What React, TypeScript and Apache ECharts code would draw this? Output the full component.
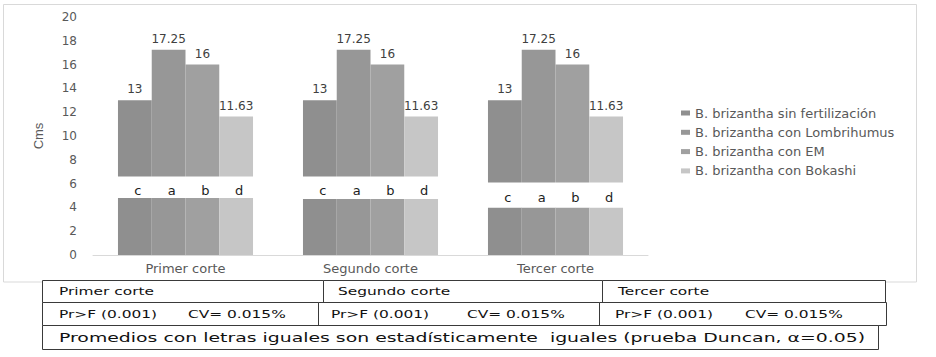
import React, { useEffect, useRef } from "react";
import * as echarts from "echarts";

const categories = ["Primer corte", "Segundo corte", "Tercer corte"];
const treatments = [
  "B. brizantha sin fertilización",
  "B. brizantha con Lombrihumus",
  "B. brizantha con EM",
  "B. brizantha con Bokashi",
];
const sinFertilizacion = [13, 13, 13];
const conLombrihumus = [17.25, 17.25, 17.25];
const conEM = [16, 16, 16];
const conBokashi = [11.63, 11.63, 11.63];
const seriesValues = [sinFertilizacion, conLombrihumus, conEM, conBokashi];

const lettersSin = ["c", "c", "c"];
const lettersLombri = ["a", "a", "a"];
const lettersEM = ["b", "b", "b"];
const lettersBokashi = ["d", "d", "d"];
const seriesLetters = [lettersSin, lettersLombri, lettersEM, lettersBokashi];

// where the white letter boxes cut the bars (axis units)
const breakLow = [4.8, 4.7, 4.0];
const breakHigh = [6.6, 6.6, 6.1];

const yMin = 0;
const yMax = 20;
const yInterval = 2;

const tableRow1 = ["Primer corte", "Segundo corte", "Tercer corte"];
const tablePr = ["Pr>F (0.001)", "Pr>F (0.001)", "Pr>F (0.001)"];
const tableCV = ["CV= 0.015%", "CV= 0.015%", "CV= 0.015%"];
const tableNote =
  "Promedios con letras iguales son estadísticamente  iguales (prueba Duncan, α=0.05)";

const colors = ["#8f8f8f", "#979797", "#a0a0a0", "#c6c6c6"];
const FONT = '"DejaVu Sans", Verdana, sans-serif';

export default function App() {
  const ref = useRef<HTMLDivElement>(null);

  useEffect(() => {
    if (!ref.current) return;
    const chart = echarts.init(ref.current, null, { renderer: "svg" });

    const series: any[] = [];
    seriesValues.forEach((vals, i) => {
      const common = {
        type: "bar",
        stack: "t" + i,
        barGap: "0%",
        barCategoryGap: "27%",
      };
      series.push({
        ...common,
        name: treatments[i],
        data: breakLow,
        itemStyle: { color: colors[i] },
      });
      series.push({
        ...common,
        name: "letras " + i,
        data: breakHigh.map((h, k) => +(h - breakLow[k]).toFixed(3)),
        itemStyle: { color: "#ffffff" },
        silent: true,
        label: {
          show: true,
          position: "inside",
          offset: [3, 3],
          formatter: (p: any) => seriesLetters[i][p.dataIndex],
          fontFamily: FONT,
          fontSize: 13,
          color: "#222222",
        },
      });
      series.push({
        ...common,
        name: treatments[i],
        data: vals.map((v, k) => +(v - breakHigh[k]).toFixed(3)),
        itemStyle: { color: colors[i] },
        label: {
          show: true,
          position: "top",
          distance: 5,
          formatter: (p: any) => String(vals[p.dataIndex]),
          fontFamily: FONT,
          fontSize: 12,
          color: "#404040",
        },
      });
    });

    const tableStroke = "#3a3a3a";
    const cell = (x: number, y: number, w: number, h: number) => ({
      type: "rect",
      shape: { x, y, width: w, height: h },
      style: { fill: "#ffffff", stroke: tableStroke, lineWidth: 1 },
      z: 20,
    });
    const txt = (text: string, x: number, y: number, size = 11, sx = 1.4) => ({
      type: "text",
      x,
      y,
      scaleX: sx,
      z: 21,
      style: {
        text,
        fontFamily: FONT,
        fontSize: size,
        fill: "#111111",
        verticalAlign: "middle",
        align: "left",
      },
    });

    const row1X = [42.5, 323.5, 602.5, 885.5];
    const row2X = [42.5, 318.5, 599.5, 886.5];
    const row1TextX = [59, 338, 618];
    const prTextX = [59, 331, 615];
    const cvTextX = [188, 467, 745];

    const graphics: any[] = [
      {
        type: "rect",
        shape: { x: 3.5, y: 4.5, width: 913, height: 277.5 },
        style: { fill: "none", stroke: "#d9d9d9", lineWidth: 1 },
        z: 1,
      },
    ];
    for (let k = 0; k < 3; k++) {
      graphics.push(cell(row1X[k], 280.5, row1X[k + 1] - row1X[k], 22));
      graphics.push(cell(row2X[k], 302.5, row2X[k + 1] - row2X[k], 23));
    }
    graphics.push(cell(42.5, 325.5, 836, 24));
    for (let k = 0; k < 3; k++) {
      graphics.push(txt(tableRow1[k], row1TextX[k], 291.5));
      graphics.push(txt(tablePr[k], prTextX[k], 314));
      graphics.push(txt(tableCV[k], cvTextX[k], 314));
    }
    graphics.push(txt(tableNote, 59, 338, 13, 1.45));

    chart.setOption({
      animation: false,
      backgroundColor: "#ffffff",
      grid: { left: 93, right: 288, top: 17, bottom: 102, containLabel: false },
      legend: {
        orient: "vertical",
        left: 676,
        top: 101.5,
        icon: "rect",
        itemWidth: 9,
        itemHeight: 5,
        itemGap: 6.3,
        data: treatments,
        selectedMode: false,
        textStyle: {
          fontFamily: FONT,
          fontSize: 13,
          color: "#595959",
          lineHeight: 13,
        },
      },
      xAxis: {
        type: "category",
        data: categories,
        axisLine: { lineStyle: { color: "#d9d9d9", width: 1 } },
        axisTick: { show: false },
        axisLabel: {
          margin: 7,
          fontFamily: FONT,
          fontSize: 13,
          color: "#595959",
        },
      },
      yAxis: {
        type: "value",
        min: yMin,
        max: yMax,
        interval: yInterval,
        name: "Cms",
        nameLocation: "middle",
        nameGap: 48,
        nameTextStyle: {
          fontFamily: '"Liberation Sans Narrow", "Liberation Sans", Arial, sans-serif',
          fontSize: 13,
          color: "#595959",
        },
        axisLine: { show: false },
        axisTick: { show: false },
        splitLine: { show: false },
        axisLabel: {
          margin: 16,
          fontFamily: FONT,
          fontSize: 12,
          color: "#595959",
        },
      },
      series,
      graphic: { elements: graphics },
    });

    return () => chart.dispose();
  }, []);

  return (
    <div
      ref={ref}
      style={{
        position: "absolute",
        left: 0,
        top: 0,
        width: 936,
        height: 357,
        background: "#ffffff",
      }}
    />
  );
}
